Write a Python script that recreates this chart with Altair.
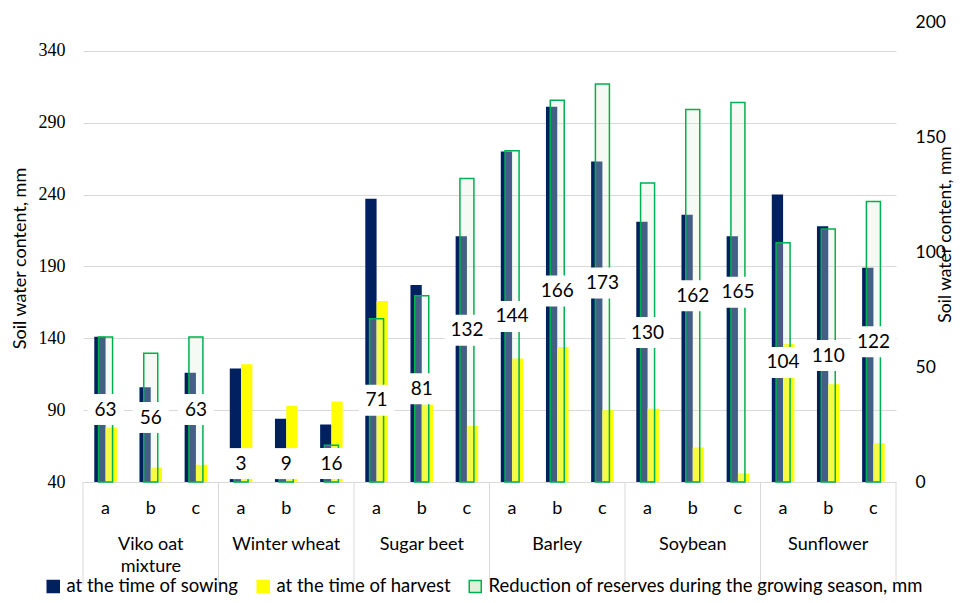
import altair as alt
import pandas as pd
import numpy as np

crops = ["Viko oat mixture", "Winter wheat", "Sugar beet", "Barley", "Soybean", "Sunflower"]
crop_labels = ["Viko oat\nmixture", "Winter wheat", "Sugar beet", "Barley", "Soybean", "Sunflower"]
subs = ["a", "b", "c"]

sowing = [141, 106, 116, 119, 84, 80, 237, 177, 211, 270, 301, 263, 221, 226, 211, 240, 218, 189]
harvest = [78, 50, 52, 122, 93, 96, 166, 94, 79, 126, 134, 90, 91, 64, 46, 136, 108, 67]
reduction = [63, 56, 63, 3, 9, 16, 71, 81, 132, 144, 166, 173, 130, 162, 165, 104, 110, 122]

left_ticks = [40, 90, 140, 190, 240, 290, 340]
right_ticks = [0, 50, 100, 150, 200]

S_SOW = "at the time of sowing"
S_HARV = "at the time of harvest"
S_RED = "Reduction of reserves during the growing season, mm"

SANS = "Lato"
SERIF = "Liberation Serif"
NAVY = "#002060"
YELLOW = "#ffff00"
GREEN = "#00b050"
PALE = "#e2efda"
GRID = "#d9d9d9"

keys = [f"{c}|{s}" for c in crops for s in subs]

bars_df = pd.DataFrame({
    "key": keys * 2,
    "series": [S_SOW] * len(keys) + [S_HARV] * len(keys),
    "value": sowing + harvest,
})
red_df = pd.DataFrame({
    "key": keys,
    "series": S_RED,
    "red": reduction,
    "pos": np.maximum(np.array(reduction) / 2.0, 8),
    "label": [str(v) for v in reduction],
})
crop_df = pd.DataFrame({
    "key": [f"{c}|a" for c in crops],
    "mid": [f"{c}|b" for c in crops],
    "name": crop_labels,
})
end_df = pd.DataFrame({"key": [keys[-1]]})

xscale = alt.Scale(domain=keys, paddingInner=0, paddingOuter=0)
fill_scale = alt.Scale(domain=[S_SOW, S_HARV, S_RED], range=[NAVY, YELLOW, PALE])
stroke_scale = alt.Scale(domain=[S_SOW, S_HARV, S_RED], range=[NAVY, YELLOW, GREEN])
left_scale = alt.Scale(domain=[40, 360], zero=False, nice=False)
right_scale = alt.Scale(domain=[0, 200], nice=False)

legend = alt.Legend(
    title=None, orient="none", legendX=-39, legendY=555, direction="horizontal",
    symbolType="square", symbolSize=144, symbolStrokeWidth=1.5, symbolOpacity=1,
    labelFont=SANS, labelFontSize=18.5, labelColor="#000", labelOffset=4,
    columnPadding=15, padding=0, labelLimit=700,
)

x_axis = alt.Axis(
    title=None, labelExpr="split(datum.value, '|')[1]", labelAngle=0, ticks=False,
    domainColor=GRID, domainWidth=1, labelFont=SANS, labelFontSize=18,
    labelColor="#000", labelPadding=17, grid=False,
)

left_axis = alt.Axis(
    values=left_ticks, title="Soil water content, mm", ticks=False, domain=False,
    grid=True, gridColor=GRID, gridWidth=1, labelFont=SERIF, labelFontSize=18,
    labelColor="#000", labelPadding=18, titleFont=SANS, titleFontSize=18,
    titleFontWeight="normal", titleColor="#000", titleX=-63, titleY=236,
    titleAngle=270, titleBaseline="middle", titleAlign="center",
)

right_axis = alt.Axis(
    orient="right", values=right_ticks, title="Soil water content, mm", ticks=False,
    domain=False, grid=False, labelFont=SANS, labelFontSize=17.5, labelColor="#000",
    labelPadding=19, titleFont=SANS, titleFontSize=17.5, titleFontWeight="normal",
    titleColor="#000", titleX=49, titleY=212, titleAngle=270,
    titleBaseline="middle", titleAlign="center",
)

x_main = alt.X("key:N", scale=xscale, axis=x_axis)

bars = alt.Chart(bars_df).mark_bar(strokeWidth=0).encode(
    x=x_main,
    xOffset=alt.XOffset("series:N", scale=alt.Scale(domain=[S_SOW, S_HARV], paddingInner=0, paddingOuter=1)),
    y=alt.Y("value:Q", scale=left_scale, axis=left_axis),
    y2=alt.datum(40),
    fill=alt.Fill("series:N", scale=fill_scale, legend=legend),
)

rules = alt.Chart(crop_df).mark_rule(color=GRID, strokeWidth=1).encode(
    x=alt.X("key:N", scale=xscale, bandPosition=0, axis=x_axis),
    y=alt.value(460), y2=alt.value(563),
)
end_rule = alt.Chart(end_df).mark_rule(color=GRID, strokeWidth=1).encode(
    x=alt.X("key:N", scale=xscale, bandPosition=1, axis=x_axis),
    y=alt.value(460), y2=alt.value(563),
)
crop_text = alt.Chart(crop_df).mark_text(
    font=SANS, fontSize=18, baseline="top", lineBreak="\n", lineHeight=22, color="#000"
).encode(
    x=alt.X("mid:N", scale=xscale, axis=x_axis),
    y=alt.value(514),
    text="name:N",
)

green = alt.Chart(red_df).mark_bar(
    width=alt.RelativeBandSize(0.31), fillOpacity=0.3, strokeOpacity=1, strokeWidth=1.5
).encode(
    x=alt.X("key:N", scale=xscale, axis=x_axis),
    y=alt.Y("red:Q", scale=right_scale, axis=right_axis),
    fill=alt.Fill("series:N", scale=fill_scale, legend=legend),
    stroke=alt.Stroke("series:N", scale=stroke_scale, legend=legend),
)

boxes = alt.Chart(red_df).transform_calculate(
    bw="length(datum.label) * 8 + 20"
).mark_tick(color="white", opacity=1, thickness=31).encode(
    x=alt.X("key:N", scale=xscale, axis=x_axis),
    y=alt.Y("pos:Q", scale=right_scale, axis=right_axis),
    size=alt.Size("bw:Q", scale=None, legend=None),
)

labels = alt.Chart(red_df).mark_text(font=SANS, fontSize=19, color="#000").encode(
    x=alt.X("key:N", scale=xscale, axis=x_axis),
    y=alt.Y("pos:Q", scale=right_scale, axis=right_axis),
    text="label:N",
)

left = alt.layer(bars, rules, end_rule, crop_text)
right = alt.layer(green, boxes, labels)

chart = alt.layer(left, right).resolve_scale(y="independent").properties(
    width=813, height=460,
    autosize=alt.AutoSizeParams(type="none"),
    padding={"left": 75, "top": 14, "right": 58, "bottom": 113},
    background="white",
).configure_view(stroke=None)

chart.save("out.html", embed_options={"renderer": "svg", "actions": False})
